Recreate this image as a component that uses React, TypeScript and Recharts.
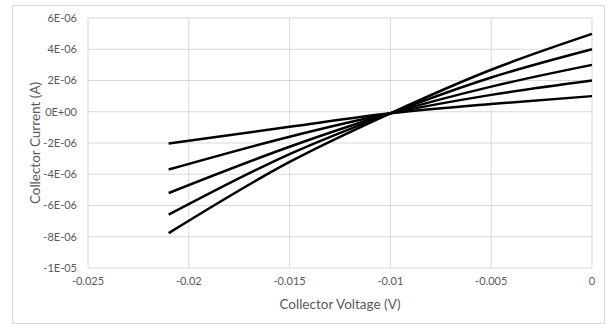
import { LineChart, Line, XAxis, YAxis, CartesianGrid } from 'recharts'

// collector voltage (V)
const voltage = [-0.021, -0.015, -0.01, -0.005, 0]

// collector current (A), five curves
const curveA = [-2.03e-6, -0.96e-6, -0.1e-6, 0.5e-6, 1.0e-6]
const curveB = [-3.7e-6, -1.6e-6, -0.1e-6, 1.08e-6, 2.0e-6]
const curveC = [-5.2e-6, -2.24e-6, -0.1e-6, 1.61e-6, 3.0e-6]
const curveD = [-6.59e-6, -2.71e-6, -0.1e-6, 2.19e-6, 4.0e-6]
const curveE = [-7.77e-6, -3.21e-6, -0.1e-6, 2.69e-6, 4.98e-6]

const xTicks = [-0.025, -0.02, -0.015, -0.01, -0.005, 0]
const xTickLabels = ['-0.025', '-0.02', '-0.015', '-0.01', '-0.005', '0']
const yTicks = [-1e-5, -8e-6, -6e-6, -4e-6, -2e-6, 0, 2e-6, 4e-6, 6e-6]
const yTickLabels = ['-1E-05', '-8E-06', '-6E-06', '-4E-06', '-2E-06', '0E+00', '2E-06', '4E-06', '6E-06']

const seriesKeys = ['a', 'b', 'c', 'd', 'e']

const rows = voltage.map((v, i) => ({
  v,
  a: curveA[i],
  b: curveB[i],
  c: curveC[i],
  d: curveD[i],
  e: curveE[i],
}))

const textColor = '#595959'
const gridColor = '#d9d9d9'
const font = 'Lato, "Open Sans", sans-serif'

export default function App() {
  return (
    <div style={{ position: 'absolute', left: 0, top: 0, width: 611, height: 324, background: '#fff' }}>
      <div
        style={{
          position: 'absolute',
          left: 12,
          top: 5,
          width: 591,
          height: 317,
          border: `1px solid ${gridColor}`,
        }}
      />
      <LineChart
        width={611}
        height={324}
        data={rows}
        margin={{ top: 18, right: 19, left: 28, bottom: 0 }}
        style={{ position: 'absolute', left: 0, top: 0, fontFamily: font }}
      >
        <CartesianGrid stroke={gridColor} strokeWidth={1} />
        <XAxis
          dataKey="v"
          type="number"
          domain={[-0.025, 0]}
          ticks={xTicks}
          tickFormatter={(_v: number, i: number) => xTickLabels[i]}
          axisLine={false}
          tickLine={false}
          tickMargin={3}
          height={56}
          tick={{ fill: textColor, fontSize: 11, fontFamily: font }}
          label={{
            value: 'Collector Voltage (V)',
            position: 'insideBottom',
            offset: 15,
            fill: textColor,
            fontSize: 13.5,
            fontFamily: font,
          }}
        />
        <YAxis
          type="number"
          domain={[-1e-5, 6e-6]}
          ticks={yTicks}
          tickFormatter={(_v: number, i: number) => yTickLabels[i]}
          axisLine={false}
          tickLine={false}
          tickMargin={5}
          width={60}
          tick={{ fill: textColor, fontSize: 11, fontFamily: font }}
          label={{
            value: 'Collector Current (A)',
            angle: -90,
            position: 'insideLeft',
            offset: 7,
            fill: textColor,
            fontSize: 13.5,
            fontFamily: font,
            style: { textAnchor: 'middle' },
          }}
        />
        {seriesKeys.map(k => (
          <Line
            key={k}
            type="monotone"
            dataKey={k}
            stroke="#000"
            strokeWidth={2.5}
            dot={false}
            isAnimationActive={false}
          />
        ))}
      </LineChart>
    </div>
  )
}
